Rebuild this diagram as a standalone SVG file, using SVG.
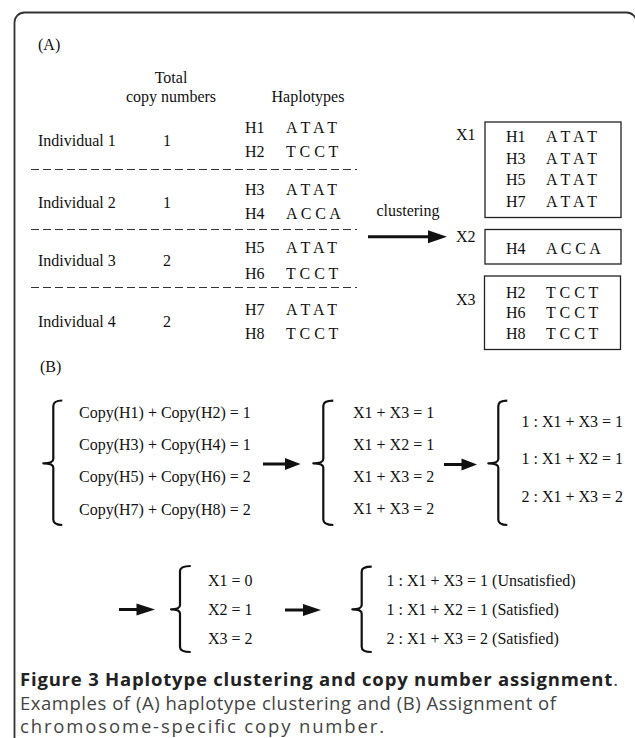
<svg xmlns="http://www.w3.org/2000/svg" width="635" height="738" viewBox="0 0 635 738">
<style>
.t{font-family:"Liberation Serif","Times New Roman",serif;font-size:16px;fill:#111}
.m{text-anchor:middle}
.dash{stroke:#333;stroke-width:1.2;stroke-dasharray:8 4;fill:none}
.box{fill:#fff;stroke:#222;stroke-width:1.3}
.brace{fill:none;stroke:#111;stroke-width:2.2;stroke-linejoin:round}
.shaft{stroke:#111;stroke-width:3}
.head{fill:#111}
.cap{font-family:"Open Sans","Noto Sans",sans-serif;font-size:18.5px;fill:#444}
.capb{font-weight:bold;fill:#222}
</style>
<rect x="14.5" y="12.5" width="622" height="760" rx="10" ry="10" fill="#fff" stroke="#333" stroke-width="1.8"/>

<g id="panelA">
<text class="t" x="38" y="50">(A)</text>
<text class="t m" x="171" y="83">Total</text>
<text class="t m" x="171" y="102">copy numbers</text>
<text class="t m" x="308" y="102">Haplotypes</text>
</g>

<g id="individual1">
<text class="t" x="38" y="146">Individual 1</text>
<text class="t" x="163" y="146">1</text>
<text class="t" x="245" y="133">H1</text><text class="t" x="286" y="133">A T A T</text>
<text class="t" x="245" y="157">H2</text><text class="t" x="286" y="157">T C C T</text>
</g>
<g id="individual2">
<text class="t" x="38" y="208">Individual 2</text>
<text class="t" x="163" y="208">1</text>
<text class="t" x="245" y="195">H3</text><text class="t" x="286" y="195">A T A T</text>
<text class="t" x="245" y="219">H4</text><text class="t" x="286" y="219">A C C A</text>
</g>
<g id="individual3">
<text class="t" x="38" y="266">Individual 3</text>
<text class="t" x="163" y="266">2</text>
<text class="t" x="245" y="253">H5</text><text class="t" x="286" y="253">A T A T</text>
<text class="t" x="245" y="279">H6</text><text class="t" x="286" y="279">T C C T</text>
</g>
<g id="individual4">
<text class="t" x="38" y="327">Individual 4</text>
<text class="t" x="163" y="327">2</text>
<text class="t" x="245" y="315">H7</text><text class="t" x="286" y="315">A T A T</text>
<text class="t" x="245" y="339">H8</text><text class="t" x="286" y="339">T C C T</text>
</g>

<g id="separators">
<line class="dash" x1="31" y1="169.5" x2="357" y2="169.5"/>
<line class="dash" x1="31" y1="229.5" x2="357" y2="229.5"/>
<line class="dash" x1="31" y1="287.5" x2="357" y2="287.5"/>
</g>

<g id="clusterX1">
<text class="t" x="456" y="140">X1</text>
<rect class="box" x="485" y="122" width="136" height="95.5"/>
<text class="t" x="506" y="142">H1</text><text class="t" x="546" y="142">A T A T</text>
<text class="t" x="506" y="163.5">H3</text><text class="t" x="546" y="163.5">A T A T</text>
<text class="t" x="506" y="185">H5</text><text class="t" x="546" y="185">A T A T</text>
<text class="t" x="506" y="206.5">H7</text><text class="t" x="546" y="206.5">A T A T</text>
</g>
<g id="clusterX2">
<text class="t" x="456" y="242">X2</text>
<rect class="box" x="485" y="229.5" width="136" height="34.5"/>
<text class="t" x="506" y="253.5">H4</text><text class="t" x="546" y="253.5">A C C A</text>
</g>
<g id="clusterX3">
<text class="t" x="456" y="305">X3</text>
<rect class="box" x="484.5" y="276" width="136" height="73.5"/>
<text class="t" x="506" y="297.5">H2</text><text class="t" x="546" y="297.5">T C C T</text>
<text class="t" x="506" y="318">H6</text><text class="t" x="546" y="318">T C C T</text>
<text class="t" x="506" y="338.5">H8</text><text class="t" x="546" y="338.5">T C C T</text>
</g>

<g id="panelB">
<text class="t" x="40" y="372">(B)</text>
</g>

<g id="system1">
<path class="brace" d="M62.3,400.5 Q53.3,400.5 53.3,406 L53.3,459 Q53.3,463.3 43.3,463.3 Q53.3,463.3 53.3,467.5 L53.3,519.5 Q53.3,525 62.3,525"/>
<text class="t" x="79" y="418">Copy(H1) + Copy(H2) = 1</text>
<text class="t" x="79" y="450">Copy(H3) + Copy(H4) = 1</text>
<text class="t" x="79" y="482">Copy(H5) + Copy(H6) = 2</text>
<text class="t" x="79" y="515">Copy(H7) + Copy(H8) = 2</text>
</g>
<g id="system2">
<path class="brace" d="M333.3,400.7 Q323.3,400.7 323.3,406 L323.3,459 Q323.3,463.3 313.3,463.3 Q323.3,463.3 323.3,467.5 L323.3,519.5 Q323.3,525 333.3,525"/>
<text class="t" x="353" y="418">X1 + X3 = 1</text>
<text class="t" x="353" y="450">X1 + X2 = 1</text>
<text class="t" x="353" y="482">X1 + X3 = 2</text>
<text class="t" x="353" y="514">X1 + X3 = 2</text>
</g>
<g id="system3">
<path class="brace" d="M507.3,400.7 Q498.3,400.7 498.3,406 L498.3,459 Q498.3,463.3 488.3,463.3 Q498.3,463.3 498.3,467.5 L498.3,519.5 Q498.3,525 507.3,525"/>
<text class="t" x="521.5" y="427">1 : X1 + X3 = 1</text>
<text class="t" x="521.5" y="464">1 : X1 + X2 = 1</text>
<text class="t" x="521.5" y="502">2 : X1 + X3 = 2</text>
</g>
<g id="system4">
<path class="brace" d="M190.7,566 Q180,566 180,571 L180,605 Q180,609.3 171,609.3 Q180,609.3 180,613.5 L180,647 Q180,652 190.7,652"/>
<text class="t" x="208" y="586">X1 = 0</text>
<text class="t" x="208" y="615">X2 = 1</text>
<text class="t" x="208" y="644">X3 = 2</text>
</g>
<g id="system5">
<path class="brace" d="M371.7,566.7 Q361.7,566.7 361.7,571.5 L361.7,605 Q361.7,609.3 352.3,609.3 Q361.7,609.3 361.7,613.5 L361.7,647 Q361.7,652 371.7,652"/>
<text class="t" x="386.5" y="586">1 : X1 + X3 = 1 (Unsatisfied)</text>
<text class="t" x="386.5" y="615">1 : X1 + X2 = 1 (Satisfied)</text>
<text class="t" x="386.5" y="644">2 : X1 + X3 = 2 (Satisfied)</text>
</g>

<g id="connectors">
<text class="t m" x="408" y="216">clustering</text>
<line class="shaft" x1="368" y1="236.7" x2="430" y2="236.7"/>
<polygon class="head" points="428,230.2 447,236.7 428,243.2"/>
<line class="shaft" x1="263" y1="464" x2="287" y2="464"/>
<polygon class="head" points="285,458 300.5,464 285,470"/>
<line class="shaft" x1="444" y1="464.5" x2="463" y2="464.5"/>
<polygon class="head" points="461.5,458.5 477,464.5 461.5,470.5"/>
<line class="shaft" x1="119" y1="609.5" x2="138" y2="609.5"/>
<polygon class="head" points="136.5,603.5 155,609.5 136.5,615.5"/>
<line class="shaft" x1="285" y1="610" x2="305" y2="610"/>
<polygon class="head" points="303,604 321,610 303,616"/>
</g>

<g id="caption">
<text class="cap" x="20" y="686" textLength="598" lengthAdjust="spacing"><tspan class="capb">Figure 3 Haplotype clustering and copy number assignment</tspan>.</text>
<text class="cap" x="20" y="710" textLength="536" lengthAdjust="spacing">Examples of (A) haplotype clustering and (B) Assignment of</text>
<text class="cap" x="20" y="733" textLength="364" lengthAdjust="spacing">chromosome-specific copy number.</text>
</g>
</svg>
